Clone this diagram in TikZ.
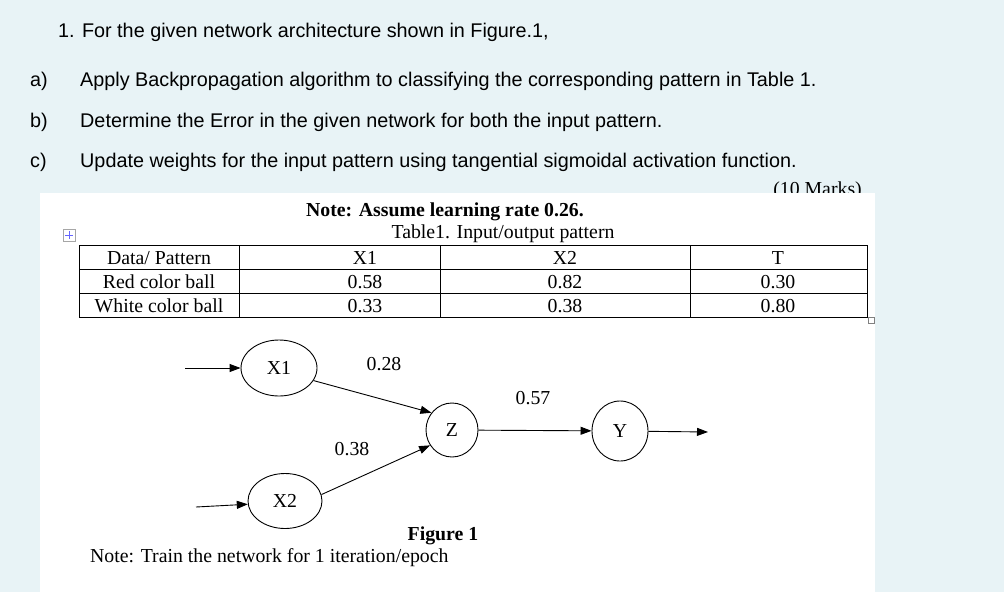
\documentclass[tikz,border=0pt]{standalone}
\usepackage{fontspec}
\setmainfont{Liberation Serif}
\newfontfamily\arial{Liberation Sans}
\usetikzlibrary{shapes.geometric,arrows.meta}
\definecolor{bgblue}{HTML}{E8F3F6}
\begin{document}
\begin{tikzpicture}[x=1pt,y=-1pt,
  q/.style={anchor=west,font=\arial\fontsize{19.8}{22}\selectfont,inner sep=0},
  t/.style={font=\fontsize{19.8}{22}\selectfont,inner sep=0},
  nd/.style={draw,ellipse,line width=0.9pt,minimum width=#1,inner sep=0,font=\fontsize{19.8}{22}\selectfont},
  ar/.style={-{Triangle[length=11pt,width=8pt]},line width=0.9pt}]
\fill[bgblue] (0,0) rectangle (1004,592);
\node[t,anchor=east] (marks) at (862,191) {(10 Marks)};
\fill[white] (40,193) rectangle (875,592);
\node[q] (h) at (58,32) {1. For the given network architecture shown in Figure.1,};
\node[q] (la) at (30,81) {a)};
\node[q] (qa) at (80,81) {Apply Backpropagation algorithm to classifying the corresponding pattern in Table 1.};
\node[q] (lb) at (30,122) {b)};
\node[q] (qb) at (80,122) {Determine the Error in the given network for both the input pattern.};
\node[q] (lc) at (30,162) {c)};
\node[q] (qc) at (80,162) {Update weights for the input pattern using tangential sigmoidal activation function.};
\node[t,font=\bfseries\fontsize{19.8}{22}\selectfont] (note) at (445,212) {Note: Assume learning rate 0.26.};
\node[t] (cap) at (503,234) {Table1. Input/output pattern};
% plus icon
\draw[gray!70,fill=white] (63,229) rectangle (75,241);
\draw[blue!60,line width=0.6pt] (69,231)--(69,239) (65,235)--(73,235);
\draw[gray,fill=white] (868,317) rectangle (874,323);
% table
\draw[line width=0.9pt] (79,245) rectangle (867,317);
\draw[line width=0.9pt] (79,269)--(867,269) (79,293)--(867,293);
\foreach \x in {239,440,690} \draw[line width=0.9pt] (\x,245)--(\x,317);
\node[t] (c00) at (159,258) {Data/ Pattern};
\node[t] (c01) at (365,258) {X1};
\node[t] (c02) at (565,258) {X2};
\node[t] (c03) at (778,258) {T};
\node[t] (c10) at (159,282) {Red color ball};
\node[t] (c11) at (365,282) {0.58};
\node[t] (c12) at (565,282) {0.82};
\node[t] (c13) at (778,282) {0.30};
\node[t] (c20) at (159,306) {White color ball};
\node[t] (c21) at (365,306) {0.33};
\node[t] (c22) at (565,306) {0.38};
\node[t] (c23) at (778,306) {0.80};
% network
\node[nd=76pt,minimum height=56pt] (x1) at (279,368) {X1};
\node[nd=74pt,minimum height=55pt] (x2) at (285,501) {X2};
\node[nd=52pt,minimum height=54pt] (z) at (452,430) {Z};
\node[nd=56pt,minimum height=60pt] (y) at (620,431) {Y};
\coordinate (i1) at (185,368);
\coordinate (i2) at (196,507);
\coordinate (o) at (708,432);
\draw[ar] (i1) -- (x1);
\draw[ar] (i2) -- (x2.185);
\draw[ar] (x1.-20) -- (z.140);
\draw[ar] (x2.10) -- (z.215);
\draw[ar] (z) -- (y);
\draw[ar] (y) -- (o);
\node[t] (w1) at (384,364) {0.28};
\node[t] (w2) at (352,449) {0.38};
\node[t] (w3) at (533,398) {0.57};
\node[t,font=\bfseries\fontsize{19.8}{22}\selectfont] (fig) at (443,536) {Figure 1};
\node[t,anchor=west] (tr) at (90,558) {Note: Train the network for 1 iteration/epoch};
\end{tikzpicture}
\end{document}
